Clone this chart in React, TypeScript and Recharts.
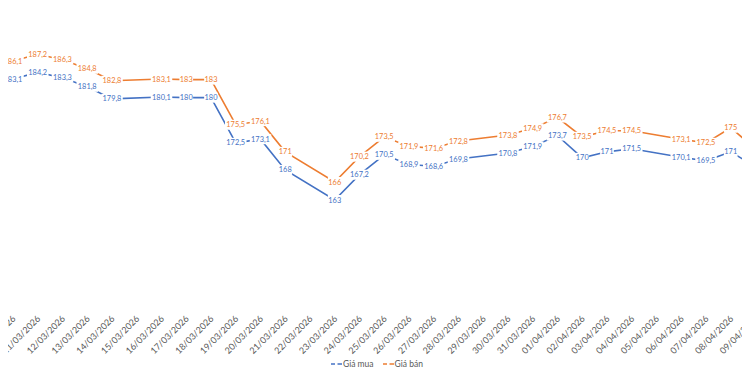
import React from 'react';
import { LineChart, Line, XAxis, YAxis, LabelList } from 'recharts';

// All calendar days on the category axis (09/03 → 10/04)
const tickDates = [
  '09/03/2026', '10/03/2026', '11/03/2026', '12/03/2026', '13/03/2026', '14/03/2026', '15/03/2026',
  '16/03/2026', '17/03/2026', '18/03/2026', '19/03/2026', '20/03/2026', '21/03/2026', '22/03/2026',
  '23/03/2026', '24/03/2026', '25/03/2026', '26/03/2026', '27/03/2026', '28/03/2026', '29/03/2026',
  '30/03/2026', '31/03/2026', '01/04/2026', '02/04/2026', '03/04/2026', '04/04/2026', '05/04/2026',
  '06/04/2026', '07/04/2026', '08/04/2026', '09/04/2026', '10/04/2026',
];

// Trading days with prices
const priceDates = [
  '09/03/2026', '10/03/2026', '11/03/2026', '12/03/2026', '13/03/2026', '14/03/2026',
  '16/03/2026', '17/03/2026', '18/03/2026', '19/03/2026', '20/03/2026', '21/03/2026',
  '23/03/2026', '24/03/2026', '25/03/2026', '26/03/2026', '27/03/2026', '28/03/2026',
  '30/03/2026', '31/03/2026', '01/04/2026', '02/04/2026', '03/04/2026', '04/04/2026',
  '06/04/2026', '07/04/2026', '08/04/2026', '09/04/2026',
];

const buyPrices = [
  181.6, 183.1, 184.2, 183.3, 181.8, 179.8,
  180.1, 180, 180, 172.5, 173.1, 168,
  163, 167.2, 170.5, 168.9, 168.6, 169.8,
  170.8, 171.9, 173.7, 170, 171, 171.5,
  170.1, 169.5, 171, 168.5,
];

const sellPrices = [
  184.9, 186.1, 187.2, 186.3, 184.8, 182.8,
  183.1, 183, 183, 175.5, 176.1, 171,
  166, 170.2, 173.5, 171.9, 171.6, 172.8,
  173.8, 174.9, 176.7, 173.5, 174.5, 174.5,
  173.1, 172.5, 175, 171.5,
];

const seriesNames = ['Giá mua', 'Giá bán'];
const BLUE = '#4472C4';
const ORANGE = '#ED7D31';

const data = priceDates.map((d, k) => ({
  i: tickDates.indexOf(d),
  date: d,
  buy: buyPrices[k],
  sell: sellPrices[k],
}));

const tickIdx = tickDates.map((_, i) => i);

const fmt = (v: number) => String(v).replace('.', ',');

const makeLabel = (color: string) => (props: any) => {
  const { x, y, value } = props;
  if (x == null || y == null) return null;
  const t = fmt(value);
  const w = t.length * 3.9 + 2;
  return (
    <g>
      <rect x={x - w / 2} y={y - 5} width={w} height={10} fill="#ffffff" />
      <text
        x={x}
        y={y}
        dy="0.35em"
        textAnchor="middle"
        fontFamily="Lato, 'Open Sans', sans-serif"
        fontSize={7.4}
        fill={color}
      >
        {t}
      </text>
    </g>
  );
};

const DateTick = (props: any) => {
  const { x, payload } = props;
  const label = tickDates[payload.value];
  return (
    <g transform={`translate(${x + 1},${317})`}>
      <text
        x={0}
        y={0}
        dy="0.35em"
        textAnchor="end"
        transform="rotate(-45)"
        fontFamily="Lato, 'Open Sans', sans-serif"
        fontSize={9}
        fill="#595959"
      >
        {label}
      </text>
    </g>
  );
};

const LegendItem = ({ color, name }: { color: string; name: string }) => (
  <div style={{ display: 'flex', alignItems: 'center', marginRight: 9 }}>
    <svg width={11} height={6} style={{ marginRight: 1 }}>
      <line x1={0} y1={3} x2={4} y2={3} stroke={color} strokeWidth={1.5} />
      <line x1={6.5} y1={3} x2={11} y2={3} stroke={color} strokeWidth={1.5} />
    </svg>
    <span>{name}</span>
  </div>
);

export default function App() {
  const chartLeft = -40;
  return (
    <div
      style={{
        position: 'relative',
        width: 750,
        height: 375,
        overflow: 'hidden',
        margin: -8,
        background: '#ffffff',
      }}
    >
      <div style={{ position: 'absolute', left: chartLeft, top: 0 }}>
        <LineChart
          width={840}
          height={375}
          data={data}
          margin={{ top: 7.36, right: 19.75, left: 28.25, bottom: 42.66 }}
        >
          <XAxis
            dataKey="i"
            type="number"
            domain={[0, tickDates.length - 1]}
            ticks={tickIdx}
            interval={0}
            axisLine={false}
            tickLine={false}
            tick={<DateTick />}
            height={30}
            allowDataOverflow
          />
          <YAxis hide type="number" domain={[146, 195]} allowDataOverflow />
          <Line
            dataKey="buy"
            name={seriesNames[0]}
            stroke={BLUE}
            strokeWidth={1.6}
            dot={false}
            activeDot={false}
            isAnimationActive={false}
          >
            <LabelList dataKey="buy" content={makeLabel(BLUE)} />
          </Line>
          <Line
            dataKey="sell"
            name={seriesNames[1]}
            stroke={ORANGE}
            strokeWidth={1.6}
            dot={false}
            activeDot={false}
            isAnimationActive={false}
          >
            <LabelList dataKey="sell" content={makeLabel(ORANGE)} />
          </Line>
        </LineChart>
      </div>
      <div
        style={{
          position: 'absolute',
          left: 331,
          top: 358,
          display: 'flex',
          fontFamily: "Lato, 'Open Sans', sans-serif",
          fontSize: 8.5,
          color: '#595959',
          lineHeight: '12px',
        }}
      >
        <LegendItem color={BLUE} name={seriesNames[0]} />
        <LegendItem color={ORANGE} name={seriesNames[1]} />
      </div>
    </div>
  );
}
